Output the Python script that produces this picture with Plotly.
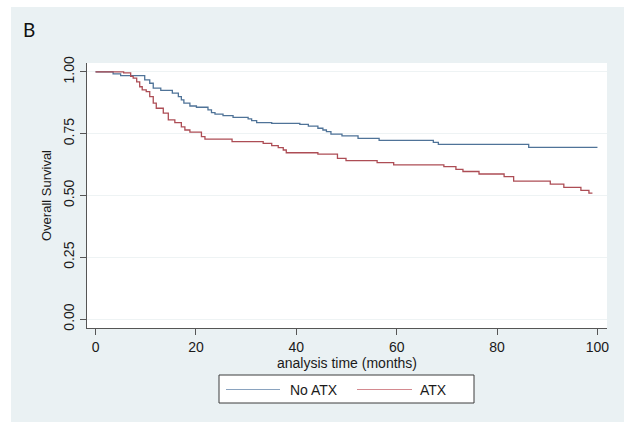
import plotly.graph_objects as go

# Kaplan-Meier estimates of overall survival by group (time in months)
no_atx_time = [0, 3.5, 5.0, 9.8, 10.8, 11.5, 13.0, 15.3, 16.5, 17.1, 17.6, 18.8,
               20.1, 22.4, 23.1, 23.8, 25.4, 27.4, 30.4, 31.1, 32.1, 35.1, 40.7,
               42.4, 44.3, 45.3, 46.0, 46.9, 49.1, 52.3, 56.5, 67.3, 68.3, 86.3, 100.0]
no_atx_surv = [1.000, 0.992, 0.985, 0.968, 0.954, 0.934, 0.925, 0.914, 0.900, 0.887,
               0.874, 0.862, 0.857, 0.846, 0.835, 0.829, 0.823, 0.816, 0.810, 0.803,
               0.795, 0.792, 0.788, 0.781, 0.772, 0.765, 0.758, 0.748, 0.741, 0.731,
               0.723, 0.715, 0.707, 0.695, 0.695]

atx_time = [0, 5.6, 7.0, 7.5, 8.2, 8.8, 9.3, 10.1, 10.8, 11.5, 12.1, 13.5, 14.5,
            15.8, 17.1, 17.8, 18.8, 21.1, 21.8, 27.2, 33.4, 35.1, 36.4, 37.4, 38.0,
            44.3, 48.2, 49.9, 56.1, 59.4, 69.4, 71.8, 73.2, 76.4, 81.4, 83.3, 90.6,
            93.3, 96.7, 98.3, 99.0]
atx_surv = [1.000, 0.996, 0.982, 0.975, 0.960, 0.940, 0.927, 0.920, 0.900, 0.874,
            0.853, 0.833, 0.806, 0.795, 0.778, 0.765, 0.756, 0.738, 0.728, 0.718,
            0.711, 0.702, 0.694, 0.684, 0.673, 0.667, 0.650, 0.641, 0.633, 0.624,
            0.617, 0.606, 0.597, 0.587, 0.576, 0.558, 0.546, 0.533, 0.521, 0.510,
            0.510]

group_names = ["No ATX", "ATX"]
x_ticks = [0, 20, 40, 60, 80, 100]
y_ticks = [0.0, 0.25, 0.5, 0.75, 1.0]
y_tick_text = ["0.00", "0.25", "0.50", "0.75", "1.00"]

BLUE = "#4f7398"
RED = "#ad4d55"
BG = "#eaf1f3"
FONT = "Liberation Sans, Arial, sans-serif"

W, H = 624, 422
ML, MR, MT, MB = 87, 17, 63, 94
PW, PH = W - ML - MR, H - MT - MB


def px(x):
    return (x - ML) / PW


def py(y):
    return (H - MB - y) / PH


fig = go.Figure()
fig.add_trace(go.Scatter(x=no_atx_time, y=no_atx_surv, mode="lines", name=group_names[0],
                         line=dict(color=BLUE, width=1.3, shape="hv"), showlegend=False))
fig.add_trace(go.Scatter(x=atx_time, y=atx_surv, mode="lines", name=group_names[1],
                         line=dict(color=RED, width=1.3, shape="hv"), showlegend=False))

shapes = [
    # white strips framing the tinted graph region
    dict(type="rect", xref="paper", yref="paper", x0=px(0), x1=px(W), y0=py(7), y1=py(0),
         fillcolor="white", line=dict(width=0), layer="below"),
    dict(type="rect", xref="paper", yref="paper", x0=px(0), x1=px(11), y0=py(H), y1=py(0),
         fillcolor="white", line=dict(width=0), layer="below"),
    # legend box
    dict(type="rect", xref="paper", yref="paper", x0=px(219), x1=px(474), y0=py(403), y1=py(375),
         fillcolor="white", line=dict(color="#3c3c3c", width=1), layer="above"),
    dict(type="line", xref="paper", yref="paper", x0=px(226), x1=px(280), y0=py(389.5), y1=py(389.5),
         line=dict(color="#8aa3bf", width=1), layer="above"),
    dict(type="line", xref="paper", yref="paper", x0=px(357), x1=px(412), y0=py(389.5), y1=py(389.5),
         line=dict(color="#d48a90", width=1), layer="above"),
]

annotations = [
    dict(text="B", xref="paper", yref="paper", x=px(21), y=py(29), xanchor="left", yanchor="middle",
         showarrow=False, font=dict(family="Lato, sans-serif", size=19, color="#111111")),
    dict(text=group_names[0], xref="paper", yref="paper", x=px(288), y=py(390), xanchor="left",
         yanchor="middle", showarrow=False, font=dict(family=FONT, size=14, color="#1a1a1a")),
    dict(text=group_names[1], xref="paper", yref="paper", x=px(418), y=py(390), xanchor="left",
         yanchor="middle", showarrow=False, font=dict(family=FONT, size=14, color="#1a1a1a")),
]

fig.update_layout(
    width=W, height=H,
    margin=dict(l=ML, r=MR, t=MT, b=MB, autoexpand=False),
    paper_bgcolor=BG, plot_bgcolor="white",
    font=dict(family=FONT, size=14, color="#1a1a1a"),
    shapes=shapes, annotations=annotations,
    showlegend=False,
)
fig.update_xaxes(
    range=[-1.7, 101.9], tickvals=x_ticks, ticks="outside", ticklen=6, tickcolor="#555555",
    showline=True, linecolor="#555555", linewidth=1, showgrid=False, zeroline=False,
    title=dict(text="analysis time (months)", standoff=2, font=dict(size=14)),
    tickfont=dict(size=14),
)
fig.update_yaxes(
    range=[-0.036, 1.036], tickvals=y_ticks, ticktext=y_tick_text, tickangle=-90,
    ticks="outside", ticklen=6, tickcolor="#555555",
    showline=True, linecolor="#555555", linewidth=1,
    showgrid=True, gridcolor="#eef3f4", gridwidth=1, zeroline=False,
    title=dict(text="Overall Survival", standoff=6, font=dict(size=13)),
    tickfont=dict(size=14),
)

fig.write_html("out.html")
